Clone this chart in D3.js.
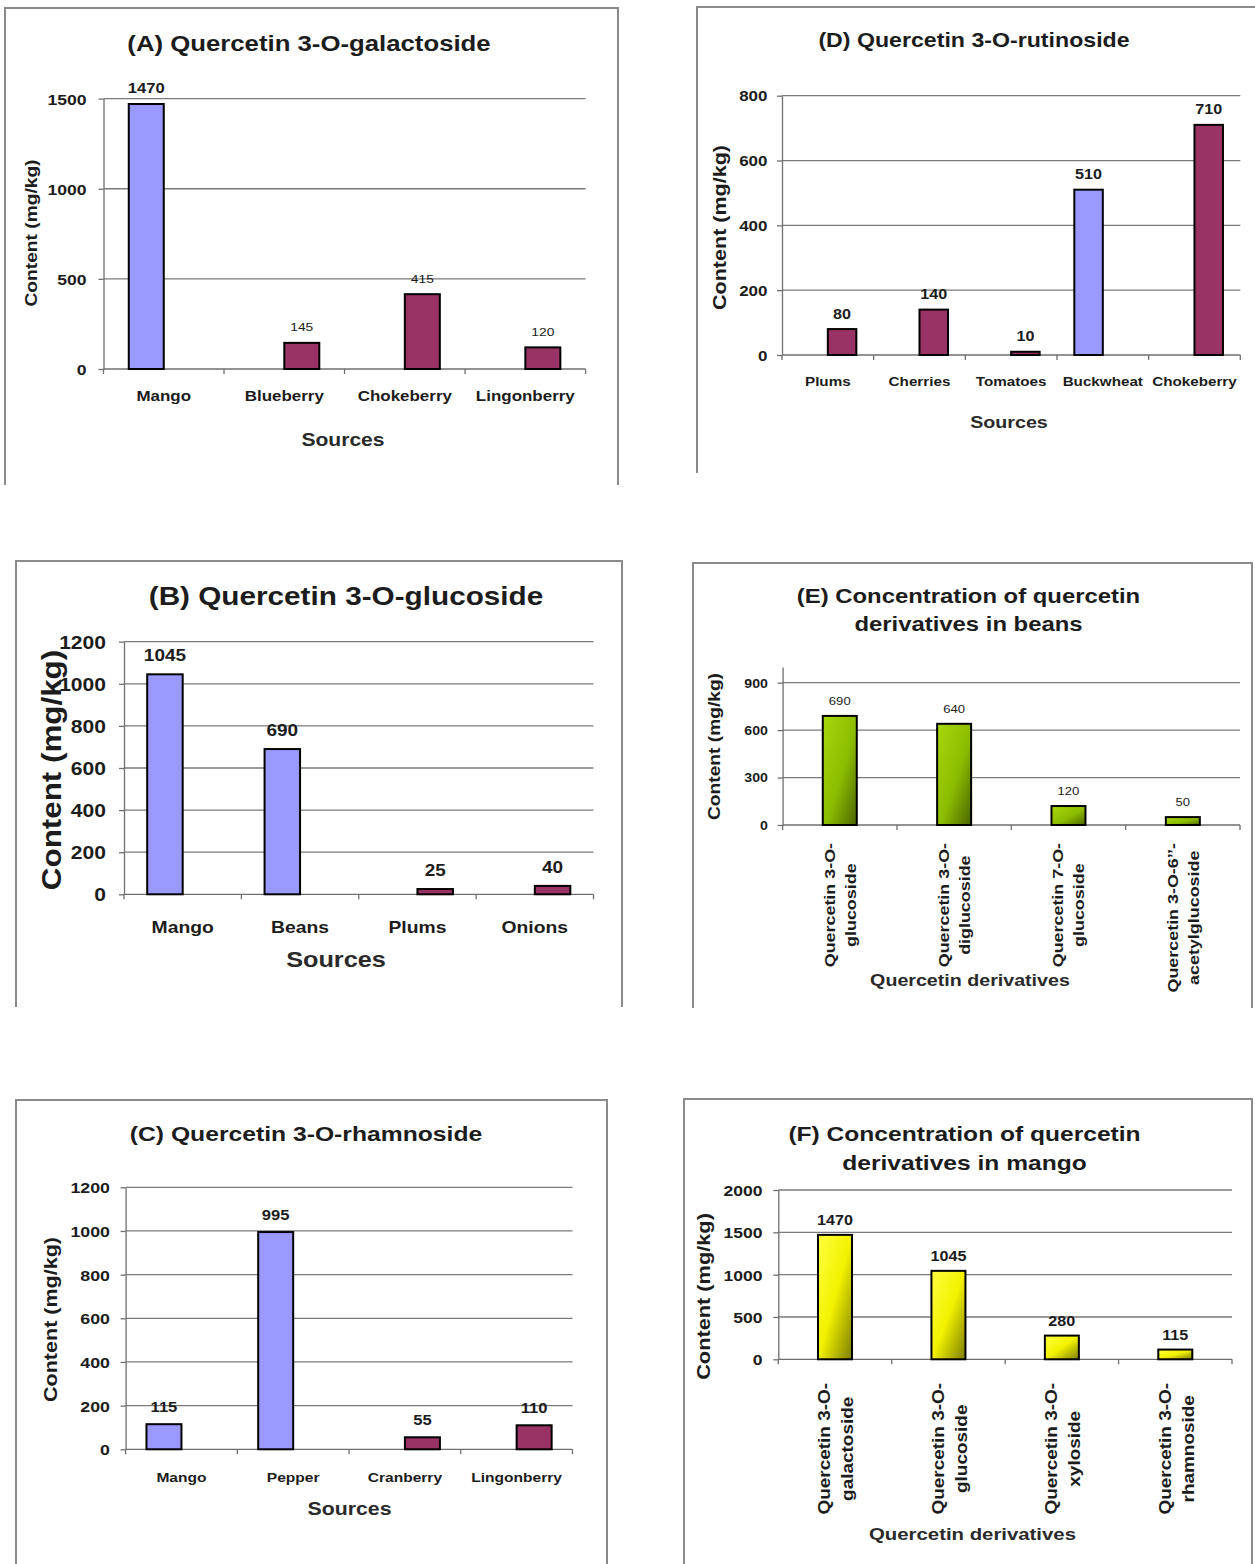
<!DOCTYPE html>
<html><head><meta charset="utf-8">
<script src="https://cdn.jsdelivr.net/npm/d3@7"></script>
<style>
body{margin:0;background:#fff}
svg{display:block}
text{font-family:"Liberation Sans",Arial,Helvetica,sans-serif}
</style>
</head><body>
<svg id="c" width="1255" height="1564"></svg>
<script>
// ---------------- DATA ----------------
const seriesNames = ["Series 1", "Series 2"];
const yTitle = "Content (mg/kg)";

// (A)
const titleA = ["(A) Quercetin 3-O-galactoside"];
const catsA = ["Mango", "Blueberry", "Chokeberry", "Lingonberry"];
const valsA = [1470, 145, 415, 120];
const serA = ["Series 1", "Series 2", "Series 2", "Series 2"];
const ticksA = [0, 500, 1000, 1500];
const xTitleA = "Sources";

// (D)
const titleD = ["(D) Quercetin 3-O-rutinoside"];
const catsD = ["Plums", "Cherries", "Tomatoes", "Buckwheat", "Chokeberry"];
const valsD = [80, 140, 10, 510, 710];
const serD = ["Series 2", "Series 2", "Series 2", "Series 1", "Series 2"];
const ticksD = [0, 200, 400, 600, 800];
const xTitleD = "Sources";

// (B)
const titleB = ["(B) Quercetin 3-O-glucoside"];
const catsB = ["Mango", "Beans", "Plums", "Onions"];
const valsB = [1045, 690, 25, 40];
const serB = ["Series 1", "Series 1", "Series 2", "Series 2"];
const ticksB = [0, 200, 400, 600, 800, 1000, 1200];
const xTitleB = "Sources";

// (E)
const titleE = ["(E) Concentration of quercetin", "derivatives in beans"];
const catsE = ["Quercetin 3-O-glucoside", "Quercetin 3-O-diglucoside", "Quercetin 7-O-glucoside", "Quercetin 3-O-6’’-acetylglucoside"];
const linesE = [["Quercetin 3-O-", "glucoside"], ["Quercetin 3-O-", "diglucoside"], ["Quercetin 7-O-", "glucoside"], ["Quercetin 3-O-6’’-", "acetylglucoside"]];
const valsE = [690, 640, 120, 50];
const ticksE = [0, 300, 600, 900];
const xTitleE = "Quercetin derivatives";

// (C)
const titleC = ["(C) Quercetin 3-O-rhamnoside"];
const catsC = ["Mango", "Pepper", "Cranberry", "Lingonberry"];
const valsC = [115, 995, 55, 110];
const serC = ["Series 1", "Series 1", "Series 2", "Series 2"];
const ticksC = [0, 200, 400, 600, 800, 1000, 1200];
const xTitleC = "Sources";

// (F)
const titleF = ["(F) Concentration of quercetin", "derivatives in mango"];
const catsF = ["Quercetin 3-O-galactoside", "Quercetin 3-O-glucoside", "Quercetin 3-O-xyloside", "Quercetin 3-O-rhamnoside"];
const linesF = [["Quercetin 3-O-", "galactoside"], ["Quercetin 3-O-", "glucoside"], ["Quercetin 3-O-", "xyloside"], ["Quercetin 3-O-", "rhamnoside"]];
const valsF = [1470, 1045, 280, 115];
const ticksF = [0, 500, 1000, 1500, 2000];
const xTitleF = "Quercetin derivatives";

// ---------------- DRAWING ----------------
const SX = 1.17;
const svg = d3.select("#c");
const defs = svg.append("defs");
function grad(id, stops) {
  const lg = defs.append("linearGradient").attr("id", id)
    .attr("x1", 0).attr("y1", 0).attr("x2", 1).attr("y2", 1);
  stops.forEach(s => lg.append("stop").attr("offset", s[0]).attr("stop-color", s[1]));
}
grad("gGreen", [[0, "#a8d80c"], [0.55, "#8cbc00"], [1, "#4a6400"]]);
grad("gYellow", [[0, "#ffff40"], [0.5, "#f2f200"], [1, "#7d7d00"]]);
const seriesColor = d3.scaleOrdinal().domain(seriesNames).range(["#9999ff", "#993366"]);

function txt(g, s, x, y, size, opt = {}) {
  const t = g.append("text").attr("x", x).attr("y", y).attr("font-size", size)
    .attr("font-weight", opt.weight || "bold").attr("fill", opt.fill || "#1c1c1c")
    .attr("text-anchor", opt.anchor || "middle").text(s);
  if (opt.transform) t.attr("transform", opt.transform);
  const n = t.node().getComputedTextLength();
  t.attr("textLength", n * (opt.sx || SX)).attr("lengthAdjust", "spacingAndGlyphs");
  return t;
}

function drawPanel(p) {
  const g = svg.append("g");
  const f = p.frame;
  let d = `M${f.l},${f.b}V${f.t}H${f.r}`;
  if (f.right) d += `V${f.b}`;
  g.append("path").attr("d", d).attr("fill", "none").attr("stroke", "#8a8a8a").attr("stroke-width", 2);

  const x0 = d3.scaleBand().domain(p.cats).range([p.left, p.right]);
  const y = d3.scaleLinear().domain([0, p.ymax]).range([p.zeroY, p.topY]);

  // gridlines
  g.append("g").selectAll("line").data(p.ticks.filter(t => t > 0)).join("line")
    .attr("x1", p.left).attr("x2", p.right)
    .attr("y1", v => y(v)).attr("y2", v => y(v))
    .attr("stroke", "#7a7a7a").attr("stroke-width", 1.3);

  // y axis
  const ya = g.append("g").attr("transform", `translate(${p.left},0)`)
    .call(d3.axisLeft(y).tickValues(p.ticks).tickSize(5).tickSizeOuter(0)
      .tickPadding(p.tickGap - 5).tickFormat(d3.format("d")));
  ya.select(".domain").attr("stroke", "#6f6f6f").attr("stroke-width", 1.3);
  ya.selectAll(".tick line").attr("stroke", "#6f6f6f").attr("stroke-width", 1.3);
  ya.selectAll(".tick text").attr("font-size", p.tickFont).attr("font-weight", "bold")
    .attr("fill", "#1c1c1c").attr("font-family", null).attr("dy", "0.36em")
    .each(function () {
      const n = this.getComputedTextLength();
      d3.select(this).attr("textLength", n * SX).attr("lengthAdjust", "spacingAndGlyphs");
    });

  // x axis line + boundary ticks
  g.append("line").attr("x1", p.left).attr("x2", p.right).attr("y1", p.zeroY).attr("y2", p.zeroY)
    .attr("stroke", "#6f6f6f").attr("stroke-width", 1.3);
  const bounds = p.cats.map(c => x0(c)).concat([p.right]);
  g.append("g").selectAll("line").data(bounds).join("line")
    .attr("x1", b => b).attr("x2", b => b).attr("y1", p.zeroY).attr("y2", p.zeroY + 5)
    .attr("stroke", "#6f6f6f").attr("stroke-width", 1.3);

  // bars
  const bw = p.barW;
  let xBar;
  if (p.series) {
    const x1 = d3.scaleBand().domain(seriesNames).range([0, 2 * bw]);
    xBar = i => x0(p.cats[i]) + x0.bandwidth() / 2 - bw + x1(p.series[i]);
  } else {
    xBar = i => x0(p.cats[i]) + x0.bandwidth() / 2 - bw / 2;
  }
  g.append("g").selectAll("rect").data(p.vals).join("rect")
    .attr("x", (v, i) => xBar(i)).attr("width", bw)
    .attr("y", v => y(v)).attr("height", v => p.zeroY - y(v))
    .attr("fill", (v, i) => p.fill ? p.fill : seriesColor(p.series[i]))
    .attr("stroke", "#000").attr("stroke-width", 2);

  // value labels
  p.vals.forEach((v, i) => {
    const st = p.valStyle(i);
    txt(g, String(v), xBar(i) + bw / 2, y(v) - p.gap, st.size, { weight: st.weight });
  });

  // title
  p.title.lines.forEach((s, i) => txt(g, s, p.title.cx, p.title.base[i], p.title.size));

  // y title
  txt(g, yTitle, 0, 0, p.ytitle.size,
    { transform: `translate(${p.ytitle.cx + 0.36 * p.ytitle.size},${p.ytitle.cy}) rotate(-90)` });

  // x labels
  if (p.lines) {
    p.cats.forEach((c, i) => {
      const cxB = x0(c) + x0.bandwidth() / 2;
      const lines = p.lines[i];
      const ts = lines.map(s => txt(g, s, 0, 0, p.rot.size));
      const L = d3.max(ts, t => +t.attr("textLength"));
      ts.forEach((t, j) => {
        const off = (j - (lines.length - 1) / 2) * p.rot.sp + p.rot.shift;
        const bx = cxB + off + 0.36 * p.rot.size;
        t.attr("transform", `translate(${bx},${p.rot.top + L / 2}) rotate(-90)`);
      });
    });
  } else {
    p.cats.forEach(c => txt(g, c, x0(c) + x0.bandwidth() / 2, p.xlab.base, p.xlab.size));
  }

  // x title
  txt(g, p.xtitle.text, p.xtitle.cx, p.xtitle.base, p.xtitle.size, { fill: "#2a2a2a" });
}

// (A)
drawPanel({
  frame: { l: 5, t: 8, r: 618, b: 485, right: true },
  cats: catsA, vals: valsA, series: serA, ticks: ticksA, ymax: 1500,
  left: 103.5, right: 585.6, zeroY: 369, topY: 98.6,
  tickFont: 15, tickGap: 17, barW: 35, gap: 11.5,
  valStyle: i => i === 0 ? { size: 14.2, weight: "bold" } : { size: 11.8, weight: "normal" },
  title: { lines: titleA, cx: 309, base: [51], size: 22 },
  ytitle: { cx: 31, cy: 233, size: 16.4 },
  xlab: { base: 401, size: 14.5 },
  xtitle: { text: xTitleA, cx: 343, base: 446, size: 18 }
});

// (D)
drawPanel({
  frame: { l: 697, t: 7, r: 1255, b: 473, right: false },
  cats: catsD, vals: valsD, series: serD, ticks: ticksD, ymax: 800,
  left: 782, right: 1240.3, zeroY: 355, topY: 95.7,
  tickFont: 14.5, tickGap: 14.5, barW: 28.5, gap: 10.5,
  valStyle: () => ({ size: 13.8, weight: "bold" }),
  title: { lines: titleD, cx: 974, base: [47], size: 19.8 },
  ytitle: { cx: 719.7, cy: 227.5, size: 18.4 },
  xlab: { base: 386, size: 13 },
  xtitle: { text: xTitleD, cx: 1009, base: 428, size: 16.8 }
});

// (B)
drawPanel({
  frame: { l: 16, t: 561, r: 622, b: 1007, right: true },
  cats: catsB, vals: valsB, series: serB, ticks: ticksB, ymax: 1200,
  left: 124, right: 593.5, zeroY: 894.3, topY: 641.7,
  tickFont: 18, tickGap: 18, barW: 35.5, gap: 13,
  valStyle: () => ({ size: 16.2, weight: "bold" }),
  title: { lines: titleB, cx: 346, base: [605], size: 25.4 },
  ytitle: { cx: 51.5, cy: 770, size: 26.8 },
  xlab: { base: 933, size: 16.5 },
  xtitle: { text: xTitleB, cx: 336, base: 967, size: 21.6 }
});

// (E)
drawPanel({
  frame: { l: 693, t: 563, r: 1252, b: 1008, right: true },
  cats: catsE, lines: linesE, vals: valsE, ticks: ticksE, ymax: 1000,
  left: 782.6, right: 1240, zeroY: 825, topY: 666.9,
  tickFont: 12.1, tickGap: 14.7, barW: 34, gap: 11, fill: "url(#gGreen)",
  valStyle: () => ({ size: 11.2, weight: "normal" }),
  title: { lines: titleE, cx: 968.5, base: [603, 631], size: 20.4 },
  ytitle: { cx: 714, cy: 746.5, size: 16.4 },
  rot: { size: 15.3, sp: 21, shift: 0, top: 843 },
  xtitle: { text: xTitleE, cx: 970, base: 986, size: 16.8 }
});

// (C)
drawPanel({
  frame: { l: 16, t: 1100, r: 607, b: 1564, right: true },
  cats: catsC, vals: valsC, series: serC, ticks: ticksC, ymax: 1200,
  left: 125.6, right: 572.5, zeroY: 1449.3, topY: 1187.3,
  tickFont: 15.2, tickGap: 15.6, barW: 35, gap: 12,
  valStyle: () => ({ size: 14.2, weight: "bold" }),
  title: { lines: titleC, cx: 306, base: [1141], size: 21.1 },
  ytitle: { cx: 50, cy: 1319.5, size: 18.4 },
  xlab: { base: 1482, size: 13.3 },
  xtitle: { text: xTitleC, cx: 349.5, base: 1515, size: 18.2 }
});

// (F)
drawPanel({
  frame: { l: 684, t: 1099, r: 1252, b: 1564, right: true },
  cats: catsF, lines: linesF, vals: valsF, ticks: ticksF, ymax: 2000,
  left: 778.3, right: 1232, zeroY: 1359.3, topY: 1190,
  tickFont: 15, tickGap: 15.8, barW: 34, gap: 10, fill: "url(#gYellow)",
  valStyle: () => ({ size: 13.8, weight: "bold" }),
  title: { lines: titleF, cx: 964.5, base: [1141, 1170], size: 21 },
  ytitle: { cx: 703, cy: 1296.5, size: 18.6 },
  rot: { size: 16.2, sp: 23, shift: 1, top: 1383 },
  xtitle: { text: xTitleF, cx: 972.5, base: 1540, size: 17.4 }
});
</script>
</body></html>
